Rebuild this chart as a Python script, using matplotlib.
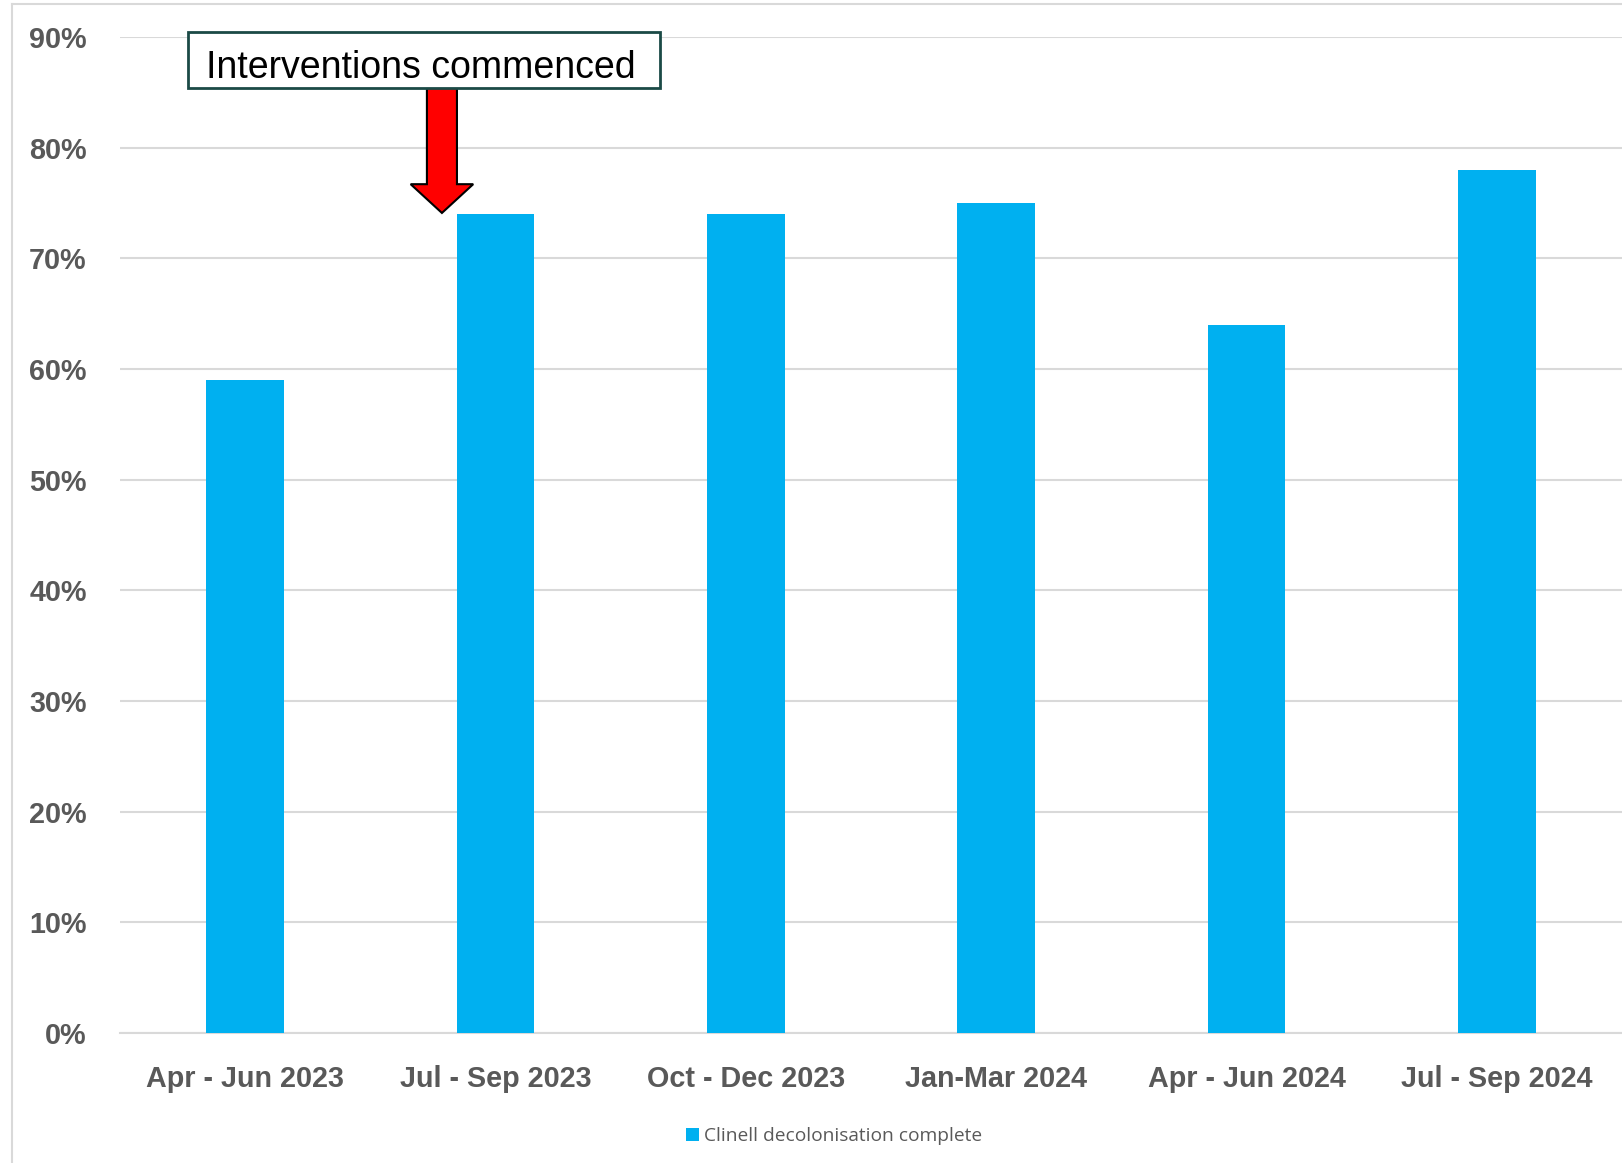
import matplotlib
matplotlib.use("Agg")
import matplotlib.pyplot as plt
import matplotlib.patches as mpatches
from matplotlib.lines import Line2D

# data
categories = ["Apr - Jun 2023", "Jul - Sep 2023", "Oct - Dec 2023",
              "Jan-Mar 2024", "Apr - Jun 2024", "Jul - Sep 2024"]
values = [0.59, 0.74, 0.74, 0.75, 0.64, 0.78]
yticks = [0.0, 0.1, 0.2, 0.3, 0.4, 0.5, 0.6, 0.7, 0.8, 0.9]
series_name = "Clinell decolonisation complete"
note = "Interventions commenced"

W, H = 1622, 1163
fig = plt.figure(figsize=(W / 100, H / 100), dpi=100)
ax = fig.add_axes([120 / W, 1 - 1033 / H, 1 - 120 / W, (1033 - 37) / H])

grey = "#595959"
bar_col = "#00b0f0"

ax.bar(range(len(categories)), values, width=0.31, color=bar_col,
       label=series_name, zorder=3)
ax.set_xlim(-0.5, len(categories) - 0.5)
ax.set_ylim(0, 0.9)
ax.set_yticks(yticks)
ax.set_yticklabels([f"{int(round(v * 100))}%" for v in yticks])
ax.set_xticks(range(len(categories)))
ax.set_xticklabels(categories)
for lab in ax.get_xticklabels() + ax.get_yticklabels():
    lab.set_fontfamily("Liberation Sans")
    lab.set_fontweight("bold")
    lab.set_fontsize(20.7)
    lab.set_color(grey)
ax.tick_params(axis="y", length=0, pad=24)
ax.tick_params(axis="x", length=0, pad=23)
ax.grid(axis="y", color="#d9d9d9", linewidth=1.5, zorder=0)
for s in ["top", "right", "left"]:
    ax.spines[s].set_visible(False)
ax.spines["bottom"].set_color("#d9d9d9")
ax.spines["bottom"].set_linewidth(1.5)

# red arrow from the note box down to the second bar
arrow = mpatches.FancyArrow(0.786, 0.854, 0, 0.741 - 0.854, width=0.12,
                            head_width=0.25, head_length=0.026,
                            length_includes_head=True, facecolor="#ff0000",
                            edgecolor="black", linewidth=1.5, zorder=5,
                            clip_on=False)
ax.add_patch(arrow)

# note box
box = mpatches.Rectangle((188 / W, 1 - 88 / H), (660 - 188) / W, 56 / H,
                         transform=fig.transFigure, facecolor="white",
                         edgecolor="#1b4a46", linewidth=2, zorder=6)
fig.add_artist(box)
fig.text(421 / W, 1 - 64 / H, note, ha="center", va="center_baseline",
         fontsize=27, family="Liberation Sans", color="black", zorder=7)

# legend
ax.legend(loc="center", bbox_to_anchor=(834 / W, 1 - 1136 / H),
          bbox_transform=fig.transFigure, frameon=False, handlelength=0.65,
          handleheight=0.65, handletextpad=0.25,
          prop={"family": "Open Sans", "size": 13.8}, labelcolor=grey)

# chart area border (left and top)
fig.add_artist(Line2D([12 / W, 12 / W], [0, 1 - 4 / H], color="#d9d9d9",
                      linewidth=1.5, transform=fig.transFigure))
fig.add_artist(Line2D([12 / W, 1], [1 - 4 / H, 1 - 4 / H], color="#d9d9d9",
                      linewidth=1.5, transform=fig.transFigure))

fig.savefig("out.png", dpi=100)
